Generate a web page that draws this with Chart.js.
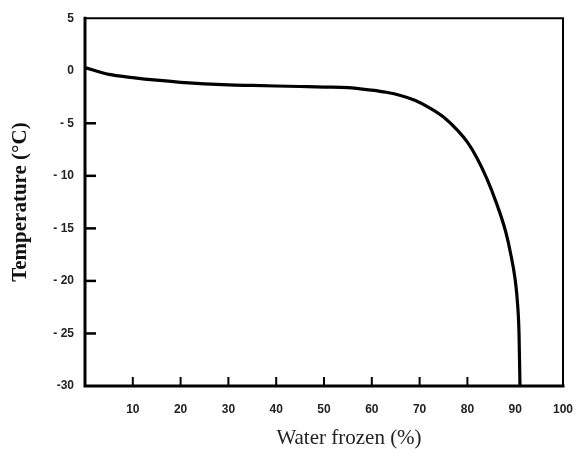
<!DOCTYPE html>
<html>
<head>
<meta charset="utf-8">
<script src="https://cdn.jsdelivr.net/npm/chart.js@4"></script>
<style>
  html, body { margin: 0; padding: 0; background: #fff; }
  #wrap { width: 576px; height: 453px; position: relative; }
</style>
</head>
<body>
<div id="wrap"><canvas id="c" width="576" height="453"></canvas></div>
<script>
// ---- data ----
const waterFrozen = [0, 5, 10, 15, 20, 25, 30, 35, 40, 45, 50, 55, 60, 63, 66, 69, 72, 75, 78, 80, 82, 84, 86, 88, 89, 90, 90.5, 90.8, 91];
const temperature = [0.3, -0.35, -0.65, -0.9, -1.1, -1.25, -1.35, -1.4, -1.45, -1.5, -1.55, -1.6, -1.85, -2.05, -2.35, -2.8, -3.5, -4.4, -5.7, -6.8, -8.3, -10.2, -12.5, -15.3, -17.3, -19.9, -22.2, -25, -30];
const yTickValues = [-30, -25, -20, -15, -10, -5, 0, 5];
const yTickLabels = ['-30', '- 25', '- 20', '- 15', '- 10', '- 5', '0', '5'];
const xTickValues = [10, 20, 30, 40, 50, 60, 70, 80, 90, 100];
const xTickLabels = ['10', '20', '30', '40', '50', '60', '70', '80', '90', '100'];
const yInnerTicks = [-25, -20, -15, -10, -5];
const xInnerTicks = [10, 20, 30, 40, 50, 60, 70, 80];
const xTitle = 'Water frozen (%)';
const yTitle = 'Temperature (\u00B0C)';

const points = waterFrozen.map((x, i) => ({ x: x, y: temperature[i] }));

const framePlugin = {
  id: 'frame',
  afterDatasetsDraw(chart) {
    const { ctx, chartArea: a, scales } = chart;
    ctx.save();
    ctx.strokeStyle = '#000';
    ctx.lineCap = 'square';
    // frame
    ctx.lineWidth = 2;
    ctx.beginPath(); ctx.moveTo(a.left, a.top); ctx.lineTo(a.right, a.top); ctx.lineTo(a.right, a.bottom); ctx.stroke();
    ctx.lineWidth = 3;
    ctx.beginPath(); ctx.moveTo(a.left, a.top); ctx.lineTo(a.left, a.bottom); ctx.lineTo(a.right, a.bottom); ctx.stroke();
    // inward ticks
    ctx.lineWidth = 2.5;
    ctx.lineCap = 'butt';
    yInnerTicks.forEach(v => {
      const y = scales.y.getPixelForValue(v);
      ctx.beginPath(); ctx.moveTo(a.left, y); ctx.lineTo(a.left + 11, y); ctx.stroke();
    });
    ctx.lineWidth = 2;
    xInnerTicks.forEach(v => {
      const x = scales.x.getPixelForValue(v);
      ctx.beginPath(); ctx.moveTo(x, a.bottom); ctx.lineTo(x, a.bottom - 9); ctx.stroke();
    });
    // x axis title
    ctx.fillStyle = '#222';
    ctx.font = '21px "Liberation Serif", "Times New Roman", serif';
    ctx.textAlign = 'center';
    ctx.textBaseline = 'middle';
    ctx.fillText(xTitle, (a.left + a.right) / 2 + 25, 438);
    ctx.restore();
  }
};

new Chart(document.getElementById('c'), {
  type: 'line',
  data: {
    datasets: [{
      data: points,
      borderColor: '#000',
      borderWidth: 3.2,
      pointRadius: 0,
      fill: false,
      cubicInterpolationMode: 'monotone'
    }]
  },
  plugins: [framePlugin],
  options: {
    responsive: false,
    animation: false,
    layout: { padding: { top: 15, right: 0, left: 0, bottom: 0 } },
    plugins: { legend: { display: false }, tooltip: { enabled: false } },
    scales: {
      x: {
        type: 'linear',
        min: 0, max: 100,
        border: { display: false },
        grid: { display: false, drawTicks: false },
        afterBuildTicks(scale) { scale.ticks = xTickValues.map(v => ({ value: v })); },
        afterFit(scale) { scale.height = 67; scale.paddingRight = 13; scale.paddingLeft = 0; },
        ticks: {
          padding: 16,
          color: '#222',
          font: { family: '"Liberation Sans", Arial, sans-serif', size: 12, weight: 'bold' },
          callback: (v) => { const i = xTickValues.indexOf(v); return i >= 0 ? xTickLabels[i] : ''; }
        }
      },
      y: {
        type: 'linear',
        min: -30, max: 5,
        border: { display: false },
        grid: { display: false, drawTicks: false },
        afterBuildTicks(scale) { scale.ticks = yTickValues.map(v => ({ value: v })); },
        afterFit(scale) { scale.width = 85; },
        title: {
          display: true,
          text: yTitle,
          color: '#111',
          font: { family: '"Liberation Serif", "Times New Roman", serif', size: 21, weight: 'bold' },
          padding: { top: 8, bottom: 0 }
        },
        ticks: {
          padding: 11,
          color: '#222',
          font: { family: '"Liberation Sans", Arial, sans-serif', size: 12, weight: 'bold' },
          callback: (v) => { const i = yTickValues.indexOf(v); return i >= 0 ? yTickLabels[i] : ''; }
        }
      }
    }
  }
});
</script>
</body>
</html>
